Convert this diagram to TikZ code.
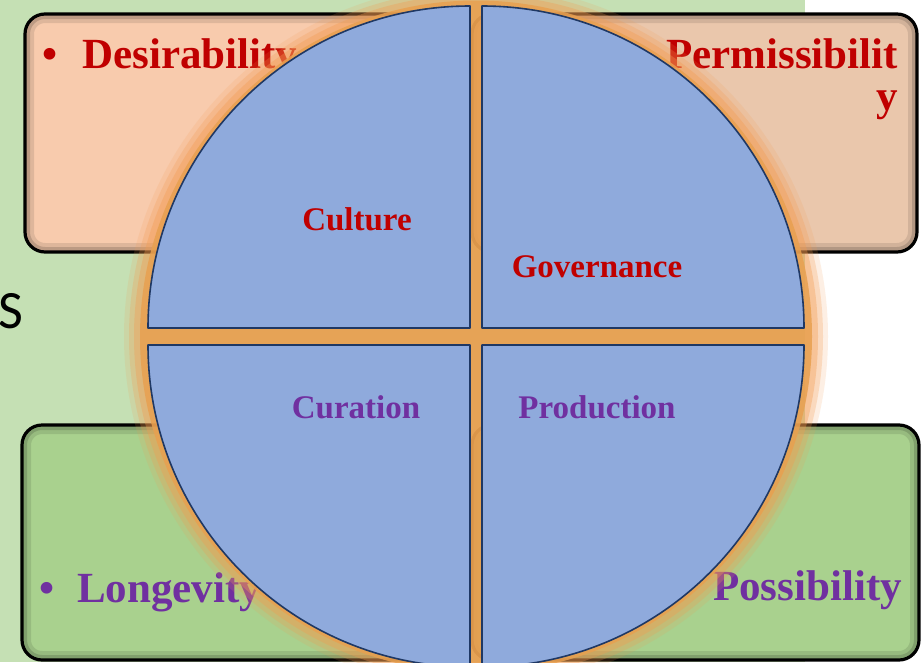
\documentclass[tikz,border=0pt]{standalone}
\usepackage{fontspec}
\setmainfont{Liberation Serif}
\newfontfamily\sletterfont{Carlito}
\usepackage{xcolor}
\definecolor{bggreen}{HTML}{C5E0B4}
\definecolor{boxpeach}{HTML}{F8CBAD}
\definecolor{boxtan}{HTML}{EAC7AC}
\definecolor{boxgreen}{HTML}{A9D18E}
\definecolor{quadblue}{HTML}{8FAADC}
\definecolor{quadedge}{HTML}{1F3864}
\definecolor{discc}{HTML}{E8A050}
\definecolor{glowc}{HTML}{F39A50}
\definecolor{darkred}{HTML}{C00000}
\definecolor{purp}{HTML}{7030A0}
\tikzset{
  boxline/.style={draw=black, line width=3.2pt, rounded corners=20pt},
  boxshade/.style={draw=black, rounded corners=20pt},
  quad/.style={fill=quadblue, draw=quadedge, line width=1.6pt, line join=round},
  boxtext/.style={font=\fontsize{43}{42}\selectfont\bfseries, inner sep=0pt},
  quadtext/.style={font=\fontsize{33}{36}\selectfont\bfseries, inner sep=0pt, anchor=base}
}

\begin{document}
\begin{tikzpicture}[x=1pt, y=-1pt]
\useasboundingbox (0,0) rectangle (924,662);
\fill[white] (0,0) rectangle (924,662);
\fill[bggreen] (0,0) rectangle (805,662);

\begin{scope}
\clip[rounded corners=20pt] (25,14) rectangle (468,252);
\fill[boxpeach] (25,14) rectangle (468,252);
\draw[boxshade, line width=18pt, opacity=0.10] (25,14) rectangle (468,252);
\draw[boxshade, line width=10pt, opacity=0.15] (25,14) rectangle (468,252);
\end{scope}
\draw[boxline] (25,14) rectangle (468,252);

\begin{scope}
\clip[rounded corners=20pt] (472,14) rectangle (917,252);
\fill[boxtan] (472,14) rectangle (917,252);
\draw[boxshade, line width=18pt, opacity=0.10] (472,14) rectangle (917,252);
\draw[boxshade, line width=10pt, opacity=0.15] (472,14) rectangle (917,252);
\end{scope}
\draw[boxline] (472,14) rectangle (917,252);

\begin{scope}
\clip[rounded corners=20pt] (22,425) rectangle (470,660);
\fill[boxgreen] (22,425) rectangle (470,660);
\draw[boxshade, line width=18pt, opacity=0.10] (22,425) rectangle (470,660);
\draw[boxshade, line width=10pt, opacity=0.15] (22,425) rectangle (470,660);
\end{scope}
\draw[boxline] (22,425) rectangle (470,660);

\begin{scope}
\clip[rounded corners=20pt] (472,425) rectangle (919,660);
\fill[boxgreen] (472,425) rectangle (919,660);
\draw[boxshade, line width=18pt, opacity=0.10] (472,425) rectangle (919,660);
\draw[boxshade, line width=10pt, opacity=0.15] (472,425) rectangle (919,660);
\end{scope}
\draw[boxline] (472,425) rectangle (919,660);

\node[boxtext, text=darkred, anchor=base west] (desir) at (42,68) {\makebox[40pt][l]{•}Desirability};
\node[boxtext, text=darkred, anchor=base east, align=right] (permis) at (898,110) {Permissibilit\\y};
\node[boxtext, text=purp, anchor=base west] (longev) at (39,602) {\makebox[38pt][l]{•}Longevity};
\node[boxtext, text=purp, anchor=base east] (possib) at (902,600) {Possibility};
\node[anchor=base west, inner sep=0pt, font=\sletterfont\fontsize{54}{54}\selectfont] (sletter) at (-2,328) {S};

\coordinate (ctr) at (476,336.5);
\fill[glowc, opacity=0.15] (ctr) circle[radius=352];
\fill[glowc, opacity=0.25] (ctr) circle[radius=347];
\fill[glowc, opacity=0.35] (ctr) circle[radius=342];
\fill[discc, opacity=0.85] (ctr) circle[radius=336];

\draw[quad] (470,328) -- (148,328) arc[start angle=180, end angle=270, radius=322] -- cycle;
\draw[quad] (482,328) -- (482,6) arc[start angle=270, end angle=360, radius=322] -- cycle;
\draw[quad] (470,345) -- (148,345) arc[start angle=180, end angle=90, radius=322] -- cycle;
\draw[quad] (482,345) -- (804,345) arc[start angle=0, end angle=90, radius=322] -- cycle;

\node[quadtext, text=darkred] (culture) at (357,230) {Culture};
\node[quadtext, text=darkred] (govern) at (597,277) {Governance};
\node[quadtext, text=purp] (curation) at (356,418) {Curation};
\node[quadtext, text=purp] (production) at (597,418) {Production};
\end{tikzpicture}
\end{document}
